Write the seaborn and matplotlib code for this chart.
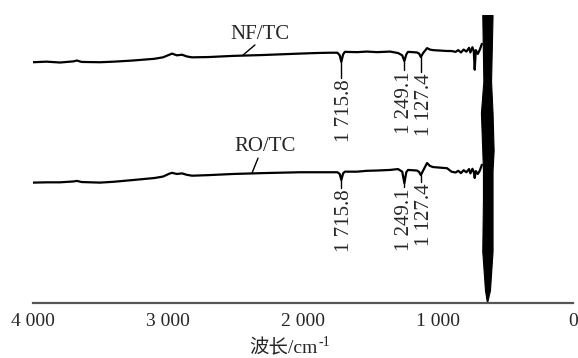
import matplotlib
matplotlib.use("Agg")
import matplotlib.pyplot as plt
import seaborn as sns
import pandas as pd
import numpy as np

# ---- data ----
wn_nf = [4000, 3900, 3800, 3700, 3675, 3640, 3504, 3400, 3259, 3100, 3037, 2990, 2970, 2935, 2896,
         2860, 2822, 2700, 2519, 2300, 2022, 1900, 1800, 1745, 1728, 1716, 1703, 1690, 1600, 1526,
         1450, 1356, 1296, 1265, 1249, 1235, 1222, 1156, 1140, 1127, 1110, 1081, 1060, 1037, 933,
         900, 870, 850, 830, 810, 790, 770, 760, 745, 735, 728, 720, 705, 690, 675]
tr_nf = [83.6, 83.8, 83.5, 83.9, 84.2, 83.7, 83.6, 83.8, 84.2, 84.8, 85.3, 86.2, 86.6, 86.0, 86.2,
         85.6, 85.3, 85.4, 85.8, 86.1, 86.6, 86.8, 86.9, 86.9, 86.0, 83.7, 86.3, 87.2, 87.1, 87.3,
         87.1, 87.3, 86.8, 86.0, 84.0, 86.3, 87.2, 87.0, 86.6, 85.4, 86.8, 88.5, 88.0, 87.8, 87.5,
         87.5, 87.2, 87.8, 87.0, 88.0, 87.3, 88.6, 87.0, 88.8, 87.5, 81.0, 87.8, 86.5, 88.0, 90.0]

wn_ro = [4000, 3900, 3800, 3700, 3675, 3640, 3504, 3400, 3259, 3100, 3037, 2990, 2970, 2935, 2896,
         2860, 2822, 2700, 2519, 2300, 2022, 1900, 1800, 1745, 1728, 1716, 1703, 1690, 1600, 1526,
         1450, 1356, 1296, 1265, 1249, 1235, 1222, 1156, 1140, 1127, 1110, 1081, 1060, 1037, 933,
         900, 870, 850, 830, 810, 790, 770, 760, 745, 735, 728, 720, 705, 690, 675]
tr_ro = [41.8, 41.9, 41.9, 42.2, 42.4, 42.0, 41.8, 42.1, 42.7, 43.4, 43.9, 44.9, 45.2, 44.8, 45.0,
         44.5, 44.2, 44.4, 44.8, 45.1, 45.4, 45.4, 45.4, 45.4, 44.8, 42.7, 45.0, 45.6, 45.6, 45.9,
         46.0, 46.2, 46.5, 45.6, 41.6, 45.4, 46.2, 46.0, 45.5, 44.4, 46.0, 48.6, 47.6, 47.2, 46.8,
         45.6, 45.3, 45.9, 45.1, 46.1, 45.4, 46.5, 45.0, 46.6, 45.5, 43.4, 45.8, 44.8, 46.0, 48.0]

# saturated band near 640 cm-1: heights and left/right edges
band_h = [0, 4.5, 18, 36, 46, 53, 66, 77, 100]
band_left = [637, 652, 672, 667, 667, 672, 682, 664, 672]
band_right = [637, 615, 596, 596, 596, 588, 596, 607, 596]

peaks = [1715.8, 1249.1, 1127.4]
peak_labels = ["1 715.8", "1 249.1", "1 127.4"]
nf_peak_y = [83.7, 84.0, 85.4]
ro_peak_y = [42.7, 41.6, 44.4]
nf_label_top = [78.1, 80.9, 80.2]
ro_label_top = [39.9, 40.3, 42.0]
label_x = [1690, 1249.1, 1100]

series_names = ["NF/TC", "RO/TC"]
name_xy = [(2319, 93.1), (2281, 54.2)]
leader_x = [(2444, 2356), (2378, 2333)]
leader_y = [(86.1, 89.6), (45.1, 50.3)]
xticks = [4000, 3000, 2000, 1000, 0]
xtick_labels = ["4 000", "3 000", "2 000", "1 000", "0"]

# ---- plotting ----
sns.set_theme(style="white")
plt.rcParams["font.family"] = ["Liberation Serif", "Noto Sans CJK SC"]
plt.rcParams["mathtext.fontset"] = "stix"

df = pd.concat([
    pd.DataFrame({"wn": wn_nf, "T": tr_nf, "s": series_names[0]}),
    pd.DataFrame({"wn": wn_ro, "T": tr_ro, "s": series_names[1]}),
])

fig = plt.figure(figsize=(5.78, 3.58), dpi=100)
ax = fig.add_axes([33 / 578, 1 - 303 / 358, 540 / 578, 288 / 358])
sns.lineplot(data=df, x="wn", y="T", units="s", estimator=None, sort=False,
             color="black", linewidth=1.6, ax=ax, legend=False)
ax.fill_betweenx(band_h, band_left, band_right, color="black", linewidth=0.8, edgecolor="black")

ax.set_xlim(4000, 0)
ax.set_ylim(0, 100)
ax.set_xticks(xticks)
ax.set_xticklabels(xtick_labels, fontsize=14)
ax.set_yticks([])
ax.set_ylabel("")
ax.set_xlabel("")
for side in ["left", "top", "right"]:
    ax.spines[side].set_visible(False)
ax.spines["bottom"].set_color("#555555")
ax.spines["bottom"].set_linewidth(1.6)
ax.tick_params(axis="x", direction="in", length=5, width=1.2, color="#555555", pad=7)

for px, lab, yp, yt, lx in zip(peaks, peak_labels, nf_peak_y, nf_label_top, label_x):
    ax.plot([px, px], [yp, yt], color="black", linewidth=1.0)
    ax.text(lx, yt - 0.5, lab, rotation=90, ha="center", va="top", fontsize=15)
for px, lab, yp, yt, lx in zip(peaks, peak_labels, ro_peak_y, ro_label_top, label_x):
    ax.plot([px, px], [yp, yt], color="black", linewidth=1.0)
    ax.text(lx, yt - 0.5, lab, rotation=90, ha="center", va="top", fontsize=15)

for name, (tx, ty), lx, ly in zip(series_names, name_xy, leader_x, leader_y):
    ax.plot(lx, ly, color="black", linewidth=1.0)
    ax.text(tx, ty, name, ha="center", va="center", fontsize=15)

# x axis label with a superscript drawn as a separate text
main = fig.text(0, 1 - 348 / 358, "波长/cm", fontsize=14, ha="left", va="center",
                family=["Liberation Serif", "Noto Sans CJK SC"])
sup = fig.text(0, 1 - 343 / 358, "-1", fontsize=10, ha="left", va="center",
               family=["Liberation Serif"])
fig.canvas.draw()
r = fig.canvas.get_renderer()
w_main = main.get_window_extent(r).width
w_sup = sup.get_window_extent(r).width
total = w_main + w_sup + 1
x0 = 290 - total / 2
main.set_x(x0 / 578)
sup.set_x((x0 + w_main + 1) / 578)

fig.savefig("out.png", dpi=100)
